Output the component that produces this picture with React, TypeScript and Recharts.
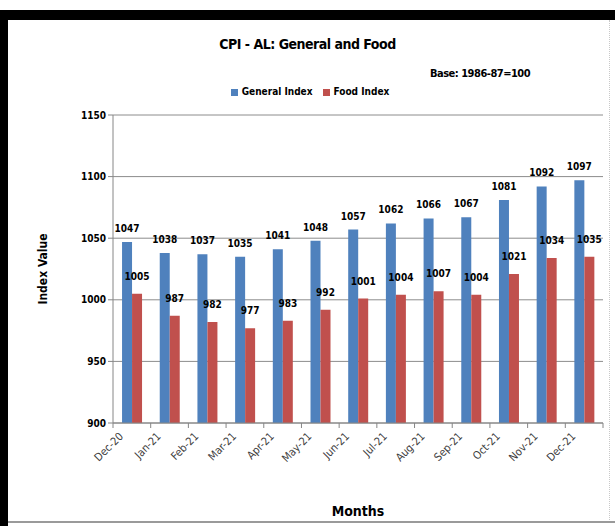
import { BarChart, Bar, XAxis, YAxis, CartesianGrid, Legend, LabelList, Label } from "recharts";

document.body.style.margin = "0";

const months = ["Dec-20", "Jan-21", "Feb-21", "Mar-21", "Apr-21", "May-21", "Jun-21", "Jul-21", "Aug-21", "Sep-21", "Oct-21", "Nov-21", "Dec-21"];
const generalIndex = [1047, 1038, 1037, 1035, 1041, 1048, 1057, 1062, 1066, 1067, 1081, 1092, 1097];
const foodIndex = [1005, 987, 982, 977, 983, 992, 1001, 1004, 1007, 1004, 1021, 1034, 1035];
const yTicks = [900, 950, 1000, 1050, 1100, 1150];

const data = months.map((m, i) => ({ month: m, general: generalIndex[i], food: foodIndex[i] }));

const FONT = "'DejaVu Sans Condensed', 'DejaVu Sans', sans-serif";
const STEP = 490 / months.length;

const MonthTick = ({ x, y, payload, index }: any) => (
  <g>
    <line x1={x - STEP / 2} y1={y - 8} x2={x - STEP / 2} y2={y - 3} stroke="#868686" />
    {index === months.length - 1 && (
      <line x1={x + STEP / 2} y1={y - 8} x2={x + STEP / 2} y2={y - 3} stroke="#868686" />
    )}
    <text
      x={x - 8}
      y={y + 6}
      textAnchor="end"
      transform={`rotate(-45, ${x - 8}, ${y + 6})`}
      fontSize={11}
      fill="#404040"
      fontFamily={FONT}
    >
      {payload.value}
    </text>
  </g>
);

const App = () => {
  return (
    <div style={{ position: "relative", width: 615, height: 526, background: "#fff", fontFamily: FONT }}>
      <div style={{ position: "absolute", left: 4, top: 10, width: 611, height: 10, background: "#000" }} />
      <div style={{ position: "absolute", left: 0, top: 10, width: 8, height: 516, background: "#000" }} />
      <div style={{ position: "absolute", left: 8, top: 521, width: 607, height: 2, background: "#9a9a9a" }} />
      <div style={{ position: "absolute", left: 609, top: 20, width: 1, height: 500, borderLeft: "1px dotted #c8c8c8" }} />
      <div style={{ position: "absolute", left: 0, top: 36, width: 615, textAlign: "center", fontWeight: "bold", fontSize: 14, letterSpacing: -0.5 }}>
        CPI - AL: General and Food
      </div>
      <div style={{ position: "absolute", left: 430, top: 67, fontWeight: "bold", fontSize: 11, letterSpacing: -0.5 }}>
        Base: 1986-87=100
      </div>
      <div style={{ position: "absolute", left: 0, top: 0 }}>
        <BarChart width={615} height={526} data={data} margin={{ top: 104, right: 12, bottom: 0, left: 0 }} barCategoryGap="24%" barGap={0}>
          <CartesianGrid vertical={false} stroke="#8c8c8c" />
          <XAxis
            dataKey="month"
            height={103}
            interval={0}
            stroke="#868686"
            tickLine={false}
            tick={<MonthTick />}
          >
            <Label value="Months" position="insideBottom" offset={10} fontWeight="bold" fontSize={14} fill="#000" fontFamily={FONT} />
          </XAxis>
          <YAxis
            width={113}
            domain={[900, 1150]}
            ticks={yTicks}
            interval={0}
            stroke="#868686"
            tickSize={5}
            tick={{ fontSize: 10, fontWeight: "bold", fill: "#000", fontFamily: FONT }}
          >
            <Label value="Index Value" angle={-90} position="center" dx={-14} fontWeight="bold" fontSize={12} fill="#000" fontFamily={FONT} />
          </YAxis>
          <Legend
            verticalAlign="top"
            iconType="square"
            iconSize={7}
            itemSorter={(item: any) => (item.dataKey === "general" ? 0 : 1)}
            wrapperStyle={{ top: 86, left: 225, width: 180, fontSize: 10, fontWeight: "bold", fontFamily: FONT }}
            formatter={(v: string) => <span style={{ color: "#000" }}>{v}</span>}
          />
          <Bar dataKey="general" name="General Index" fill="#4F81BD" isAnimationActive={false}>
            <LabelList dataKey="general" position="top" offset={10} fontSize={10} fontWeight="bold" fill="#000" fontFamily={FONT} />
          </Bar>
          <Bar dataKey="food" name="Food Index" fill="#C0504D" isAnimationActive={false}>
            <LabelList dataKey="food" position="top" offset={14} fontSize={10} fontWeight="bold" fill="#000" fontFamily={FONT} />
          </Bar>
        </BarChart>
      </div>
    </div>
  );
};

export default App;
